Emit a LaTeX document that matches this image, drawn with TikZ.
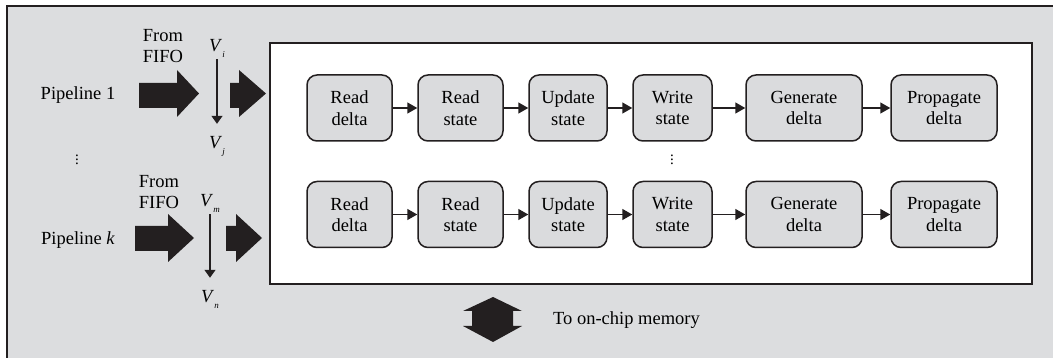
\documentclass[tikz,border=0pt]{standalone}
\usepackage{fontspec}
\setmainfont{Liberation Serif}
\usepackage{tikz}
\usetikzlibrary{arrows.meta}

\definecolor{panelgray}{RGB}{220,221,223}
\definecolor{boxgray}{RGB}{218,219,221}
\definecolor{inkblack}{RGB}{35,31,32}

\newcommand{\vname}[1]{\textit{V}\raisebox{-0.7ex}{\fontsize{9}{9}\selectfont\textit{#1}}}

\tikzset{
  stagebox/.style={draw=inkblack,line width=1.5pt,fill=boxgray,rounded corners=10pt,
    minimum height=66pt,align=center,inner sep=0pt},
  stagearr/.style={draw=inkblack,line width=1.5pt,-{Triangle[length=10pt,width=11pt]}},
  vertarr/.style={draw=inkblack,line width=1.3pt,-{Triangle[length=8pt,width=11pt]}},
  lbl/.style={align=center,inner sep=0pt}
}

\begin{document}
\begin{tikzpicture}[x=1pt,y=-1pt,font=\fontsize{18.5}{21.5}\selectfont]
			\useasboundingbox (0,0) rectangle (1053,358);
			\fill[panelgray] (7,6) rectangle (1053,358);
			\draw[inkblack,line width=1.5pt] (7,358) -- (7,6) -- (1053,6);
			\draw[inkblack,fill=white,line width=1.5pt] (270,43) rectangle (1032,284);
			% stages, one row per pipeline
			\foreach \r/\y in {t/108,b/214.5} {
				\node[stagebox,minimum width=85pt] (rd\r) at (349.5,\y) {Read\\delta};
				\node[stagebox,minimum width=85pt] (rs\r) at (460.5,\y) {Read\\state};
				\node[stagebox,minimum width=78pt] (us\r) at (568,\y) {Update\\state};
				\node[stagebox,minimum width=79pt] (ws\r) at (672.5,\y) {Write\\state};
				\node[stagebox,minimum width=116pt] (gd\r) at (804,\y) {Generate\\delta};
				\node[stagebox,minimum width=106pt] (pd\r) at (944,\y) {Propagate\\delta};
				\draw[stagearr] (rd\r) -- (rs\r);
				\draw[stagearr] (rs\r) -- (us\r);
				\draw[stagearr] (us\r) -- (ws\r);
				\draw[stagearr] (ws\r) -- (gd\r);
				\draw[stagearr] (gd\r) -- (pd\r);
			}
			\node[lbl,font=\fontsize{15}{15}\selectfont] (rowdots) at (672,157) {$\vdots$};
			% pipeline 1
			\node[lbl] (pipe1) at (78,95) {Pipeline 1};
			\node[lbl] (fifo1) at (163,46) {From\\FIFO};
			\fill[inkblack] (139,83) -- (177,83) -- (177,70) -- (199,93.5) -- (177,117) -- (177,108) -- (139,108) -- cycle;
			\fill[inkblack] (230,83) -- (239,83) -- (239,70) -- (266,93.5) -- (239,117) -- (239,108) -- (230,108) -- cycle;
			\node[lbl] (vi) at (217,48) {\vname{i}};
			\node[lbl] (vj) at (217,146) {\vname{j}};
			\draw[vertarr,shorten <=2pt,shorten >=12pt] (vi.south) -- (vj.north);
			\node[lbl,font=\fontsize{15}{15}\selectfont] (pipedots) at (77,157) {$\vdots$};
			% pipeline k
			\node[lbl] (pipek) at (78,240) {Pipeline \textit{k}};
			\node[lbl] (fifok) at (159,192) {From\\FIFO};
			\fill[inkblack] (135,226) -- (168,226) -- (168,214) -- (194,238) -- (168,262) -- (168,251) -- (135,251) -- cycle;
			\fill[inkblack] (226,226) -- (236,226) -- (236,214) -- (262,238) -- (236,262) -- (236,251) -- (226,251) -- cycle;
			\node[lbl] (vm) at (210,203) {\vname{m}};
			\node[lbl] (vn) at (210,299) {\vname{n}};
			\draw[vertarr,shorten <=2pt,shorten >=12pt] (vm.south) -- (vn.north);
			% memory port
			\fill[inkblack] (493,297) -- (522,311) -- (513,311) -- (513,326) -- (522,326) -- (493,342) -- (463,326) -- (472,326) -- (472,311) -- (463,311) -- cycle;
			\node[lbl,anchor=west] (mem) at (553,320) {To on-chip memory};
		\end{tikzpicture}
\end{document}
